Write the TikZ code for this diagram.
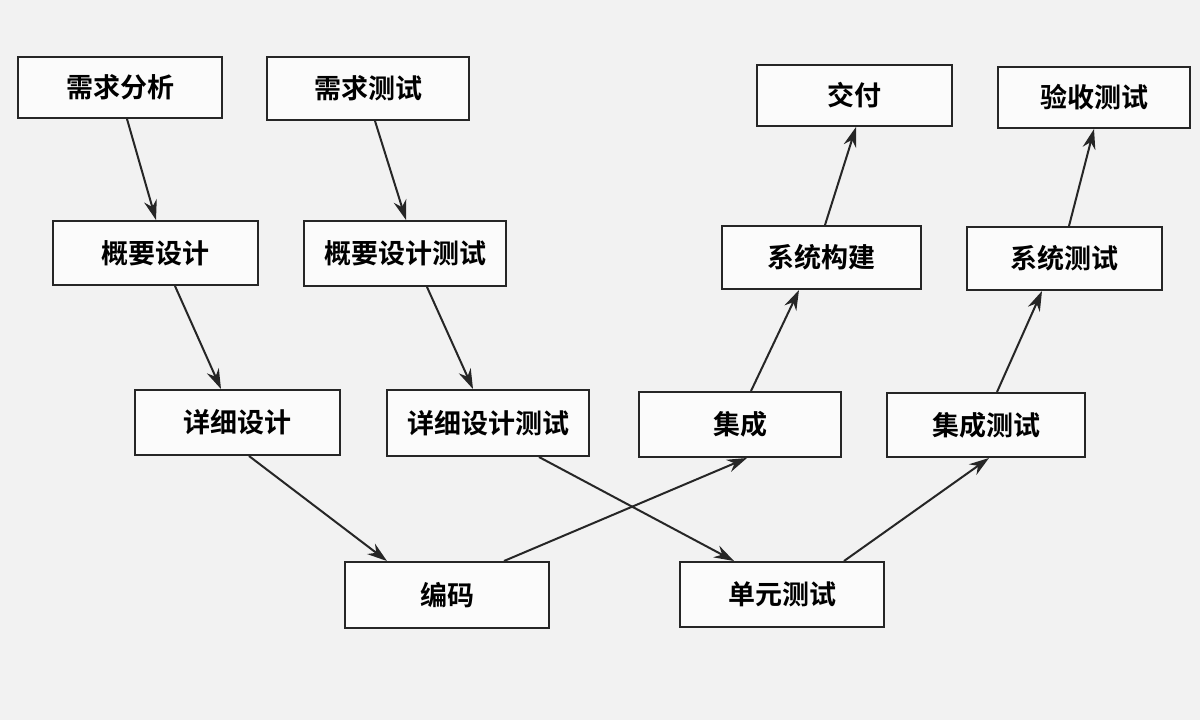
\documentclass[tikz,border=0pt]{standalone}
\usepackage{fontspec}
\newfontfamily\cjk[BoldFont={Noto Sans CJK SC Bold}]{Noto Sans CJK SC}
\usetikzlibrary{arrows.meta}
\begin{document}
\begin{tikzpicture}[x=1pt,y=-1pt,
  bx/.style={draw=black!85,line width=2pt,fill=white!97!gray,inner sep=0pt,font=\cjk\bfseries\fontsize{27}{30}\selectfont},
  ar/.style={line width=2pt,draw=black!85,-{Stealth[length=20pt,width=13pt]}}]
\fill[black!5] (0,0) rectangle (1200,720);
\useasboundingbox (0,0) rectangle (1200,720);
\newcommand\bxn[6]{\node[bx,minimum width=#4-#2,minimum height=#5-#3] (#1) at ({(#2+#4)/2},{(#3+#5)/2}) {#6};}
\bxn{a}{18}{57}{222}{118}{需求分析}
\bxn{b}{267}{57}{469}{120}{需求测试}
\bxn{c}{757}{65}{952}{126}{交付}
\bxn{d}{998}{67}{1190}{128}{验收测试}
\bxn{e}{53}{221}{258}{285}{概要设计}
\bxn{f}{304}{221}{506}{286}{概要设计测试}
\bxn{g}{722}{226}{921}{289}{系统构建}
\bxn{h}{967}{227}{1162}{290}{系统测试}
\bxn{i}{135}{390}{340}{455}{详细设计}
\bxn{j}{387}{390}{589}{456}{详细设计测试}
\bxn{k}{639}{392}{841}{457}{集成}
\bxn{l}{887}{393}{1085}{457}{集成测试}
\bxn{m}{345}{562}{549}{628}{编码}
\bxn{n}{680}{562}{884}{627}{单元测试}
\draw[ar] ([xshift=110pt]a.south west) -- ([xshift=104pt]e.north west);
\draw[ar] ([xshift=109pt]b.south west) -- ([xshift=103pt]f.north west);
\draw[ar] ([xshift=123pt]e.south west) -- ([xshift=87pt]i.north west);
\draw[ar] ([xshift=124pt]f.south west) -- ([xshift=87pt]j.north west);
\draw[ar] ([xshift=115pt]i.south west) -- ([xshift=43pt]m.north west);
\draw[ar] ([xshift=153pt]j.south west) -- ([xshift=55pt]n.north west);
\draw[ar] ([xshift=160pt]m.north west) -- ([xshift=109pt]k.south west);
\draw[ar] ([xshift=165pt]n.north west) -- ([xshift=103pt]l.south west);
\draw[ar] ([xshift=113pt]k.north west) -- ([xshift=78pt]g.south west);
\draw[ar] ([xshift=111pt]l.north west) -- ([xshift=76pt]h.south west);
\draw[ar] ([xshift=104pt]g.north west) -- ([xshift=100pt]c.south west);
\draw[ar] ([xshift=103pt]h.north west) -- ([xshift=97pt]d.south west);
\end{tikzpicture}
\end{document}
